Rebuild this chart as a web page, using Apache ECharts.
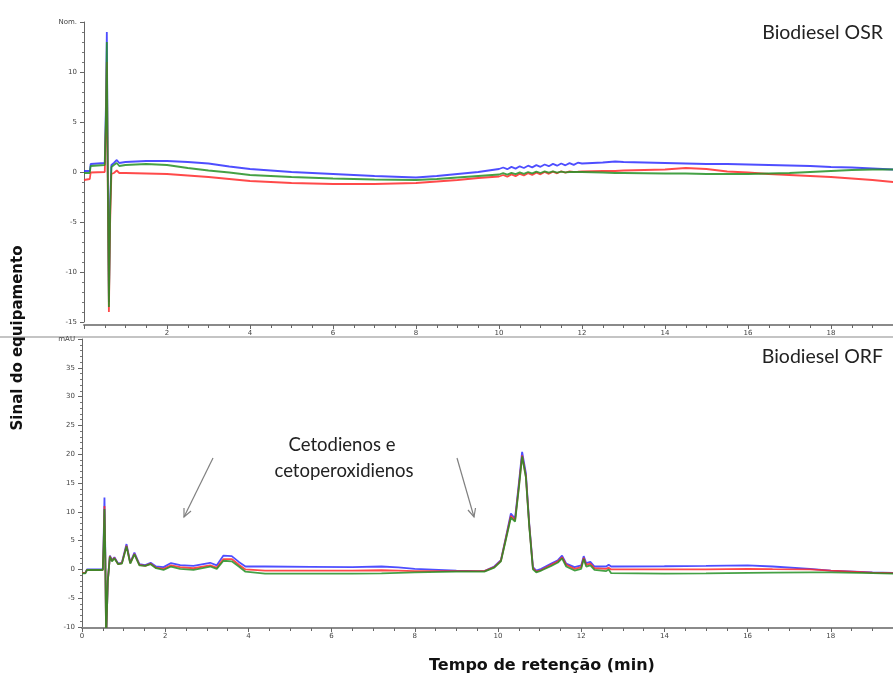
<!DOCTYPE html>
<html>
<head>
<meta charset="utf-8">
<script src="https://cdn.jsdelivr.net/npm/echarts@6/dist/echarts.min.js"></script>
<style>html,body{margin:0;padding:0;background:#fff;}#c{width:893px;height:675px;}</style>
</head>
<body>
<div id="c"></div>
<script>
// ---------- Data: Biodiesel OSR (top panel) ----------
const osrTime = [0, 0.14, 0.16, 0.5, 0.53, 0.55, 0.57, 0.6, 0.63, 0.66, 0.72, 0.79, 0.85, 1.0, 1.5, 2.0, 2.5, 3.0, 3.5, 4.0, 5.0, 6.0, 7.0, 8.0, 8.5, 9.0, 9.5, 10.0,
  10.1, 10.2, 10.3, 10.4, 10.5, 10.6, 10.7, 10.8, 10.9, 11.0, 11.1, 11.2, 11.3, 11.4, 11.5, 11.6, 11.7, 11.8, 11.9, 12.0,
  12.5, 12.8, 13.0, 14.0, 14.5, 15.0, 15.5, 16.0, 16.5, 17.0, 17.5, 18.0, 18.5, 19.0, 19.5, 20.0];
const osrBlue = [0.1, 0.1, 0.8, 0.9, 7, 14.0, 2, -13.0, -3, 0.7, 0.9, 1.2, 0.9, 1.0, 1.1, 1.1, 1.0, 0.85, 0.55, 0.3, 0.0, -0.2, -0.4, -0.55, -0.4, -0.2, 0.0, 0.3,
  0.45, 0.28, 0.51, 0.34, 0.57, 0.4, 0.63, 0.46, 0.69, 0.52, 0.75, 0.58, 0.81, 0.63, 0.85, 0.67, 0.89, 0.71, 0.93, 0.85,
  0.95, 1.05, 1.0, 0.9, 0.85, 0.8, 0.8, 0.75, 0.7, 0.65, 0.6, 0.5, 0.45, 0.35, 0.25, 0.2];
const osrGreen = [-0.1, -0.1, 0.6, 0.7, 6, 13.0, 1, -13.5, -4, 0.5, 0.7, 0.9, 0.6, 0.7, 0.8, 0.7, 0.4, 0.15, -0.05, -0.3, -0.5, -0.65, -0.75, -0.8, -0.7, -0.55, -0.4, -0.25,
  -0.12, -0.26, -0.08, -0.22, -0.04, -0.18, 0.0, -0.14, 0.04, -0.1, 0.06, -0.06, 0.06, -0.06, 0.04, -0.03, 0.0, 0.0, 0.0, 0.0,
  -0.05, -0.1, -0.1, -0.15, -0.15, -0.2, -0.2, -0.2, -0.15, -0.1, 0.0, 0.1, 0.2, 0.25, 0.25, 0.25];
const osrRed = [-0.8, -0.7, -0.05, 0.0, 5, 11.0, 0, -14.0, -5, -0.2, -0.1, 0.15, -0.1, -0.1, -0.15, -0.2, -0.35, -0.5, -0.7, -0.9, -1.1, -1.2, -1.2, -1.1, -0.95, -0.8, -0.6, -0.45,
  -0.3, -0.47, -0.24, -0.41, -0.18, -0.35, -0.12, -0.29, -0.06, -0.23, 0.0, -0.18, 0.04, -0.13, 0.07, -0.06, 0.06, 0.02, 0.03, 0.05,
  0.1, 0.1, 0.15, 0.25, 0.4, 0.3, 0.05, -0.05, -0.2, -0.3, -0.4, -0.5, -0.65, -0.8, -1.0, -1.1];

// ---------- Data: Biodiesel ORF (bottom panel) ----------
const orfTime = [0, 0.08, 0.12, 0.5, 0.52, 0.54, 0.56, 0.58, 0.6, 0.62, 0.67, 0.72, 0.78, 0.87, 0.96, 1.07, 1.16, 1.26, 1.38, 1.52, 1.65, 1.78, 1.96, 2.14, 2.36, 2.68, 3.08, 3.24, 3.4, 3.6, 3.77, 3.93,
  4.4, 5.5, 6.5, 7.2, 7.6, 8.0, 9.0, 9.5, 9.67, 9.91, 10.07, 10.19, 10.31, 10.41, 10.51, 10.58, 10.67, 10.75, 10.84, 10.92, 11.04, 11.28, 11.44, 11.54, 11.64, 11.84, 12.0, 12.06, 12.12, 12.22, 12.32,
  12.6, 12.66, 12.72, 14.0, 15.0, 16.0, 16.6, 17.5, 18.0, 19.0, 20.0];
const orfBlue = [-0.6, -0.6, 0.0, 0.0, 5, 12.5, 3, -12, -12, -2, 2.4, 1.6, 2.1, 1.0, 1.2, 4.4, 1.2, 2.9, 0.9, 0.75, 1.15, 0.5, 0.4, 1.1, 0.75, 0.6, 1.15, 0.7, 2.4, 2.3, 1.3, 0.5,
  0.5, 0.45, 0.4, 0.5, 0.35, 0.1, -0.2, -0.3, -0.3, 0.5, 1.6, 5.6, 9.7, 8.8, 15.5, 20.4, 16.7, 8.0, 0.4, -0.2, 0.1, 1.0, 1.6, 2.4, 1.0, 0.4, 0.7, 2.3, 1.1, 1.3, 0.5,
  0.5, 0.8, 0.5, 0.55, 0.6, 0.7, 0.5, 0.1, -0.2, -0.5, -0.7];
const orfRed = [-0.6, -0.6, -0.1, -0.1, 4, 11.0, 2, -12, -12, -2, 2.3, 1.5, 2.0, 0.9, 1.1, 4.1, 1.1, 2.7, 0.8, 0.6, 1.0, 0.3, 0.1, 0.7, 0.4, 0.2, 0.7, 0.3, 1.8, 1.8, 0.8, 0.0,
  -0.2, -0.2, -0.2, -0.15, -0.2, -0.3, -0.3, -0.3, -0.3, 0.4, 1.5, 5.4, 9.3, 8.5, 15.0, 19.8, 16.2, 7.8, 0.2, -0.4, -0.1, 0.8, 1.4, 2.1, 0.8, 0.1, 0.4, 2.0, 0.8, 1.0, 0.2,
  0.1, 0.3, 0.0, 0.0, 0.0, 0.1, 0.05, 0.0, -0.2, -0.55, -0.75];
const orfGreen = [-0.7, -0.7, -0.1, -0.1, 4, 10.5, 2, -12, -12, -2, 2.2, 1.4, 1.9, 0.9, 1.0, 4.0, 1.0, 2.6, 0.7, 0.6, 0.9, 0.2, -0.1, 0.5, 0.1, -0.1, 0.5, 0.1, 1.5, 1.4, 0.5, -0.4,
  -0.75, -0.75, -0.75, -0.7, -0.6, -0.5, -0.4, -0.4, -0.4, 0.3, 1.4, 5.2, 9.0, 8.3, 14.7, 19.6, 16.0, 7.6, 0.0, -0.5, -0.2, 0.6, 1.2, 1.9, 0.5, -0.2, 0.1, 1.8, 0.5, 0.7, -0.1,
  -0.3, 0.0, -0.65, -0.75, -0.7, -0.6, -0.55, -0.5, -0.5, -0.65, -0.8];

// ---------- Labels ----------
const osrTopLabel = 'Nom.';
const orfTopLabel = 'mAU';
const panelTitles = ['Biodiesel OSR', 'Biodiesel ORF'];
const annotationLines = ['Cetodienos e', 'cetoperoxidienos'];
const yTitle = 'Sinal do equipamento';
const xTitle = 'Tempo de retenção (min)';

const zip = (t, v) => t.map((x, i) => [x, v[i]]);

const BLUE = '#2f2fff', GREEN = '#249024', RED = '#ff2a2a';
const tickFont = { fontSize: 7, color: '#444', fontFamily: 'DejaVu Sans' };

function xAxisCfg(gi, off) {
  return {
    type: 'value', gridIndex: gi, min: 0, max: 20, interval: 2, offset: off,
    axisLine: { show: true, onZero: false, lineStyle: { color: '#8a8a8a', width: 2 } },
    axisTick: { show: true, length: 4, lineStyle: { color: '#666' } },
    minorTick: { show: true, splitNumber: 4, length: 3, lineStyle: { color: '#666' } },
    splitLine: { show: false },
    axisLabel: Object.assign({ margin: 5, showMinLabel: gi === 1, showMaxLabel: false }, tickFont)
  };
}
function yAxisCfg(gi, min, max, top) {
  return {
    type: 'value', gridIndex: gi, min: min, max: max, interval: 5,
    axisLine: { show: true, lineStyle: { color: '#666', width: 1 } },
    axisTick: { show: true, length: 4, lineStyle: { color: '#666' } },
    minorTick: { show: true, splitNumber: 5, length: 2, lineStyle: { color: '#777' } },
    splitLine: { show: false },
    axisLabel: Object.assign({ margin: 7, formatter: v => (v === max ? top : String(v)) }, tickFont)
  };
}
function line(name, gi, data, color) {
  return {
    name, type: 'line', xAxisIndex: gi, yAxisIndex: gi, data, showSymbol: false, symbol: 'none',
    lineStyle: { color, width: 1.8, opacity: 0.85 }, itemStyle: { color }, clip: true, animation: false
  };
}

function arrow(x1, y1, x2, y2, h1, h2) {
  return [
    { type: 'line', shape: { x1, y1, x2, y2 }, style: { stroke: '#808080', lineWidth: 1.2 } },
    { type: 'polyline', shape: { points: [h1, [x2, y2], h2] }, style: { stroke: '#808080', lineWidth: 1.2, fill: null } }
  ];
}

const chart = echarts.init(document.getElementById('c'), null, { renderer: 'canvas' });
chart.setOption({
  animation: false,
  backgroundColor: '#fff',
  grid: [
    { left: 84, top: 22, height: 300, width: 830, outerBoundsMode: 'none', containLabel: false },
    { left: 82, top: 339, height: 288, width: 832, outerBoundsMode: 'none', containLabel: false }
  ],
  xAxis: [xAxisCfg(0, 3), xAxisCfg(1, 1)],
  yAxis: [yAxisCfg(0, -15, 15, osrTopLabel), yAxisCfg(1, -10, 40, orfTopLabel)],
  series: [
    line('OSR azul', 0, zip(osrTime, osrBlue), BLUE),
    line('OSR vermelho', 0, zip(osrTime, osrRed), RED),
    line('OSR verde', 0, zip(osrTime, osrGreen), GREEN),
    line('ORF azul', 1, zip(orfTime, orfBlue), BLUE),
    line('ORF vermelho', 1, zip(orfTime, orfRed), RED),
    line('ORF verde', 1, zip(orfTime, orfGreen), GREEN)
  ],
  graphic: [
    { type: 'line', shape: { x1: 0, y1: 337, x2: 893, y2: 337 }, style: { stroke: '#c4c4c4', lineWidth: 2 }, z: -1 },
    { type: 'text', x: 883, y: 33, style: { text: panelTitles[0], font: '19.5px Lato', fill: '#222', textAlign: 'right', textVerticalAlign: 'middle' } },
    { type: 'text', x: 883, y: 357, style: { text: panelTitles[1], font: '19.5px Lato', fill: '#222', textAlign: 'right', textVerticalAlign: 'middle' } },
    { type: 'text', x: 342, y: 445, style: { text: annotationLines[0], font: '18.5px Lato', fill: '#222', textAlign: 'center', textVerticalAlign: 'middle' } },
    { type: 'text', x: 344, y: 471, style: { text: annotationLines[1], font: '18.5px Lato', fill: '#222', textAlign: 'center', textVerticalAlign: 'middle' } },
    { type: 'text', x: 18, y: 338, rotation: Math.PI / 2, style: { text: yTitle, font: 'bold 15px "DejaVu Sans"', fill: '#111', textAlign: 'center', textVerticalAlign: 'middle' } },
    { type: 'text', x: 542, y: 666, style: { text: xTitle, font: 'bold 16px "DejaVu Sans"', fill: '#111', textAlign: 'center', textVerticalAlign: 'middle' } },
    ...arrow(213, 458, 184, 517, [191, 511], [184, 508]),
    ...arrow(457, 458, 474, 517, [475.5, 508], [468, 510])
  ]
});
</script>
</body>
</html>
